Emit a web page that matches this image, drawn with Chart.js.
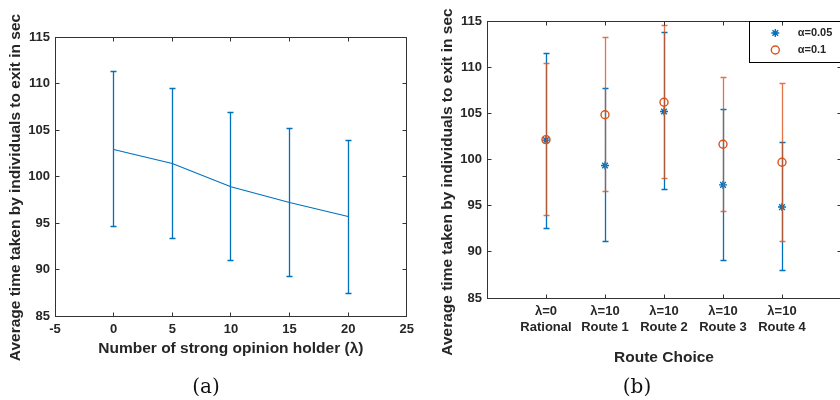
<!DOCTYPE html>
<html lang="en">
<head>
  <meta charset="UTF-8">
  <title>Average exit time</title>
  <style>
    html, body { margin: 0; padding: 0; background: #fff; }
    #figure { position: relative; width: 840px; height: 400px; overflow: hidden; }
    canvas { position: absolute; top: 0; }
    #leftChart { left: 0; }
    #rightChart { left: 420px; }
    .caption {
      position: absolute; top: 374px; width: 60px; text-align: center;
      font-family: "DejaVu Serif", serif; font-size: 20px; color: #111;
    }
  </style>
  <script src="https://cdn.jsdelivr.net/npm/chart.js"></script>
</head>
<body>
  <div id="figure">
    <canvas id="leftChart" width="420" height="400"></canvas>
    <canvas id="rightChart" width="440" height="400"></canvas>
    <div class="caption" style="left:176px">(a)</div>
    <div class="caption" style="left:607px">(b)</div>
  </div>
  <script>
    // (a) exit time vs number of strong opinion holders
    const holders = [0, 5, 10, 15, 20];
    const holderMean = [102.9, 101.4, 98.9, 97.2, 95.7];
    const holderHigh = [111.3, 109.5, 106.9, 105.2, 103.9];
    const holderLow = [94.6, 93.3, 91.0, 89.3, 87.4];
    const holderTicks = [-5, 0, 5, 10, 15, 20, 25];

    // (b) exit time per route choice, two alpha values
    const routePos = [1, 2, 3, 4, 5];
    const routeTop = ['λ=0', 'λ=10', 'λ=10', 'λ=10', 'λ=10'];
    const routeBottom = ['Rational', 'Route 1', 'Route 2', 'Route 3', 'Route 4'];
    const a005Mean = [102.1, 99.35, 105.2, 97.25, 94.85];
    const a005High = [111.5, 107.65, 113.75, 105.45, 101.8];
    const a005Low = [92.5, 91.15, 96.8, 89.1, 87.95];
    const a01Mean = [102.15, 104.85, 106.2, 101.65, 99.7];
    const a01High = [110.35, 113.2, 114.55, 108.9, 108.2];
    const a01Low = [93.95, 96.5, 97.9, 94.35, 91.15];

    const timeTicks = [85, 90, 95, 100, 105, 110, 115];
    const yTitle = 'Average time taken by individuals to exit in sec';

    const ink = '#262626';
    const frame = '#333';
    const blue = '#0072BD';
    const orange = '#D95319';
    const sans = '"Liberation Sans", Arial, sans-serif';

    function align(p) { return Math.round(p - 0.5) + 0.5; }

    // error bars, mirrored inward ticks, box, y title and legend (MATLAB look)
    const matlabAxes = {
      id: 'matlabAxes',
      beforeDatasetDraw(chart, args) {
        const ds = chart.data.datasets[args.index];
        if (!ds.errHigh) return;
        const {ctx, scales: {x, y}} = chart;
        ctx.save();
        ctx.strokeStyle = ds.errColor || ds.borderColor;
        ctx.lineWidth = 1.3;
        ctx.beginPath();
        ds.data.forEach((p, j) => {
          const px = align(x.getPixelForValue(p.x));
          const top = align(y.getPixelForValue(ds.errHigh[j]));
          const bot = align(y.getPixelForValue(ds.errLow[j]));
          ctx.moveTo(px, top); ctx.lineTo(px, bot);
          ctx.moveTo(px - 3, top); ctx.lineTo(px + 3, top);
          ctx.moveTo(px - 3, bot); ctx.lineTo(px + 3, bot);
        });
        ctx.stroke();
        ctx.restore();
      },
      afterDraw(chart, args, opts) {
        const {ctx, chartArea: a, scales: {x, y}} = chart;
        const L = align(a.left), R = align(a.right), T = align(a.top), B = align(a.bottom);
        ctx.save();
        ctx.strokeStyle = frame;
        ctx.lineWidth = 1;
        ctx.beginPath();
        ctx.moveTo(L, T); ctx.lineTo(R, T); ctx.lineTo(R, B);
        x.ticks.forEach(t => {
          const px = align(x.getPixelForValue(t.value));
          ctx.moveTo(px, B); ctx.lineTo(px, B - 4);
          ctx.moveTo(px, T); ctx.lineTo(px, T + 4);
        });
        y.ticks.forEach(t => {
          const py = align(y.getPixelForValue(t.value));
          ctx.moveTo(L, py); ctx.lineTo(L + 4, py);
          ctx.moveTo(R, py); ctx.lineTo(R - 4, py);
        });
        ctx.stroke();

        // y axis title
        ctx.translate(opts.titleX, opts.titleY);
        ctx.rotate(-Math.PI / 2);
        ctx.fillStyle = ink;
        ctx.font = 'bold 15.5px ' + sans;
        ctx.textAlign = 'center';
        ctx.textBaseline = 'middle';
        ctx.fillText(yTitle, 0, 0);
        ctx.setTransform(1, 0, 0, 1, 0, 0);

        if (opts.legend) {
          const lg = opts.legend;
          ctx.strokeStyle = '#000';
          ctx.strokeRect(lg.x + 0.5, align(a.top), 200, lg.h);
          chart.data.datasets.forEach((ds, i) => {
            const cy = lg.y0 + i * lg.step;
            ctx.strokeStyle = ds.pointBorderColor;
            ctx.lineWidth = ds.pointBorderWidth;
            ctx.fillStyle = 'rgba(0,0,0,0)';
            Chart.helpers.drawPoint(ctx, {pointStyle: ds.pointStyle, radius: 4, borderWidth: ds.pointBorderWidth, rotation: 0}, lg.markX, cy);
            ctx.fillStyle = ink;
            ctx.font = 'bold 11px ' + sans;
            ctx.textAlign = 'left';
            ctx.textBaseline = 'middle';
            ctx.fillText(ds.label, lg.textX, cy);
          });
        }
        ctx.restore();
      }
    };

    function valueAxis(width) {
      return {
        min: 85, max: 115,
        afterBuildTicks: s => { s.ticks = timeTicks.map(v => ({value: v})); },
        afterFit: s => { s.width = width; },
        ticks: {color: ink, font: {family: sans, size: 13, weight: 'bold'}, padding: 5},
        grid: {display: false, drawTicks: false},
        border: {display: true, color: frame}
      };
    }

    Chart.defaults.animation = false;

    new Chart(document.getElementById('leftChart'), {
      type: 'line',
      data: {
        datasets: [{
          label: 'mean exit time',
          data: holders.map((v, i) => ({x: v, y: holderMean[i]})),
          errHigh: holderHigh,
          errLow: holderLow,
          borderColor: blue,
          borderWidth: 1.2,
          pointRadius: 0,
          tension: 0,
          fill: false
        }]
      },
      options: {
        responsive: false,
        layout: {padding: {top: 37, right: 9, left: 0, bottom: 0}},
        plugins: {
          legend: {display: false},
          tooltip: {enabled: false},
          matlabAxes: {titleX: 16, titleY: 187.5}
        },
        scales: {
          x: {
            type: 'linear', min: -5, max: 25,
            afterBuildTicks: s => { s.ticks = holderTicks.map(v => ({value: v})); },
            afterFit: s => { s.height = 84; },
            ticks: {color: ink, font: {family: sans, size: 13, weight: 'bold'}, padding: 6, autoSkip: false, maxRotation: 0},
            grid: {display: false, drawTicks: false},
            border: {display: true, color: frame},
            title: {
              display: true, text: 'Number of strong opinion holder (λ)', color: ink,
              font: {family: sans, size: 15.5, weight: 'bold'}, padding: {top: 0, bottom: 42}
            }
          },
          y: valueAxis(55)
        }
      },
      plugins: [matlabAxes]
    });

    new Chart(document.getElementById('rightChart'), {
      type: 'line',
      data: {
        datasets: [{
          label: 'α=0.05',
          data: routePos.map((v, i) => ({x: v, y: a005Mean[i]})),
          errHigh: a005High,
          errLow: a005Low,
          errColor: blue,
          showLine: false,
          order: 1,
          pointStyle: 'star',
          pointRadius: 4,
          pointBorderWidth: 1.4,
          pointBorderColor: blue,
          pointBackgroundColor: 'rgba(0,0,0,0)',
          borderColor: blue
        }, {
          label: 'α=0.1',
          data: routePos.map((v, i) => ({x: v, y: a01Mean[i]})),
          errHigh: a01High,
          errLow: a01Low,
          errColor: 'rgba(217,83,25,0.8)',
          showLine: false,
          order: 0,
          pointStyle: 'circle',
          pointRadius: 4,
          pointBorderWidth: 1.4,
          pointBorderColor: orange,
          pointBackgroundColor: 'rgba(0,0,0,0)',
          borderColor: orange
        }]
      },
      options: {
        responsive: false,
        layout: {padding: {top: 21, right: 19, left: 0, bottom: 0}},
        plugins: {
          legend: {display: false},
          tooltip: {enabled: false},
          matlabAxes: {
            titleX: 27.5, titleY: 182,
            legend: {x: 329, h: 41, y0: 33, step: 17, markX: 355.3, textX: 377.7}
          }
        },
        scales: {
          x: {
            type: 'linear', min: 0, max: 6,
            afterBuildTicks: s => { s.ticks = routePos.map(v => ({value: v})); },
            afterFit: s => { s.height = 102; },
            ticks: {
              color: ink, font: {family: sans, size: 13, weight: 'bold'}, padding: 6,
              autoSkip: false, maxRotation: 0,
              callback: v => {
                const i = routePos.indexOf(v);
                return i < 0 ? '' : [routeTop[i], routeBottom[i]];
              }
            },
            grid: {display: false, drawTicks: false},
            border: {display: true, color: frame},
            title: {
              display: true, text: 'Route Choice', color: ink,
              font: {family: sans, size: 15.5, weight: 'bold'}, padding: {top: 0, bottom: 33}
            }
          },
          y: valueAxis(67)
        }
      },
      plugins: [matlabAxes]
    });
  </script>
</body>
</html>
